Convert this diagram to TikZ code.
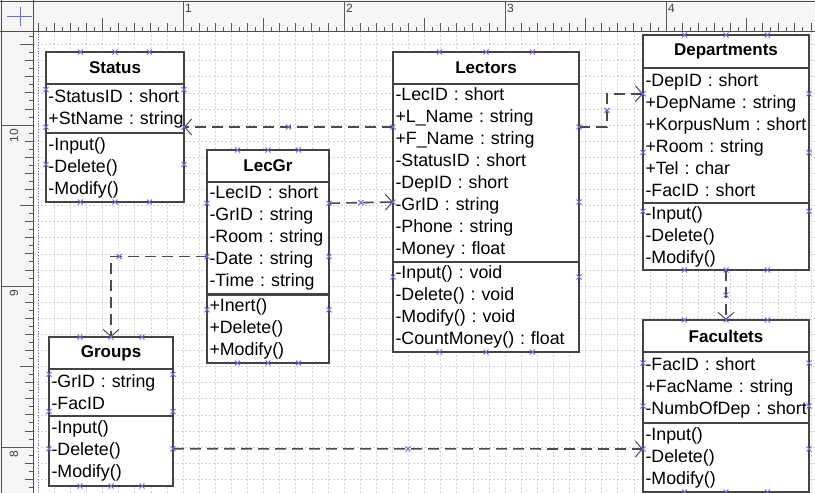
\documentclass[tikz,border=0pt]{standalone}
\usepackage{fontspec}
\setmainfont{Liberation Sans}
\usepackage{xcolor}
\usetikzlibrary{arrows.meta,positioning,calc,fit}

\definecolor{boxline}{RGB}{68,68,68}
\definecolor{conline}{RGB}{75,75,75}
\definecolor{cptblue}{RGB}{105,105,245}
\definecolor{gridgray}{RGB}{212,212,212}
\definecolor{rulerbg}{RGB}{246,246,246}

% blue connection point
\newcommand{\cpt}[1]{\draw[cpx] (#1) +(-2.5,-2.5) -- +(2.5,2.5) +(-2.5,2.5) -- +(2.5,-2.5);}

\begin{document}
\begin{tikzpicture}[
  x=1pt, y=-1pt,
  font=\fontsize{17.8}{22}\selectfont\frenchspacing,
  classname/.style={rectangle, draw=boxline, line width=1.5pt, fill=white,
                    font=\fontsize{17}{22}\selectfont\bfseries,
                    inner sep=0pt, outer sep=0pt},
  section/.style={rectangle, draw=boxline, line width=1.5pt, fill=white,
                  align=left, inner xsep=2.5pt, inner ysep=0pt, outer sep=0pt},
  hull/.style={inner sep=0pt, outer sep=0pt},
  dep/.style={draw=conline, line width=1.6pt, dash pattern=on 11pt off 6pt,
              -{Straight Barb[length=7pt, width=16pt, line width=1pt]}},
  cpx/.style={draw=cptblue, line width=1pt},
  gridln/.style={draw=gridgray, line width=0.6pt, dash pattern=on 1.5pt off 2.5pt},
  tick/.style={draw=black!65, line width=0.8pt},
  rulernum/.style={font=\fontsize{12}{12}\selectfont, text=black!75, inner sep=1pt},
]
\useasboundingbox (0,0) rectangle (815,493);

% grid
\foreach \i in {1,...,49}
  \draw[gridln] (22+16.1*\i,31) -- (22+16.1*\i,493);
\foreach \j in {-5,...,23}
  \draw[gridln] (33,125+16.1*\j) -- (815,125+16.1*\j);
\draw[cptblue, line width=0.8pt, dotted] (38,31) -- (38,493);

% Status
\node[classname, minimum width=138pt, minimum height=32pt, anchor=north west]
  (statusT) at (46,52) {Status};
\node[section, text width=133pt, minimum height=49pt, below=0pt of statusT]
  (statusA) {-StatusID : short\\\mbox{+StName : string}};
\node[section, text width=133pt, minimum height=69pt, below=0pt of statusA]
  (statusM) {-Input()\\-Delete()\\-Modify()};
\node[hull, fit=(statusT)(statusM)] (status) {};

% LecGr
\node[classname, minimum width=122pt, minimum height=32pt, anchor=north west]
  (lecgrT) at (207,150) {LecGr};
\node[section, text width=117pt, minimum height=112pt, below=0pt of lecgrT]
  (lecgrA) {-LecID : short\\-GrID : string\\\mbox{-Room : string}\\-Date : string\\-Time : string};
\node[section, text width=117pt, minimum height=69pt, below=0pt of lecgrA]
  (lecgrM) {+Inert()\\+Delete()\\+Modify()};
\draw[boxline, line width=3pt] (lecgrM.north west) -- (lecgrM.north east);
\node[hull, fit=(lecgrT)(lecgrM)] (lecgr) {};

% Lectors
\node[classname, minimum width=186pt, minimum height=32pt, anchor=north west]
  (lectorsT) at (393,52) {Lectors};
\node[section, text width=181pt, minimum height=178pt, below=0pt of lectorsT]
  (lectorsA) {-LecID : short\\+L\_Name : string\\+F\_Name : string\\-StatusID : short\\
              -DepID : short\\-GrID : string\\-Phone : string\\-Money : float};
\node[section, text width=181pt, minimum height=90pt, below=0pt of lectorsA]
  (lectorsM) {-Input() : void\\-Delete() : void\\-Modify() : void\\\mbox{-CountMoney() : float}};
\node[hull, fit=(lectorsT)(lectorsM)] (lectors) {};

% Departments
\node[classname, minimum width=166pt, minimum height=33pt, anchor=north west]
  (deptsT) at (643,35) {Departments};
\node[section, text width=161pt, minimum height=135pt, below=0pt of deptsT]
  (deptsA) {-DepID : short\\+DepName : string\\\mbox{+KorpusNum : short}\\+Room : string\\
            +Tel : char\\-FacID : short};
\node[section, text width=161pt, minimum height=67pt, below=0pt of deptsA]
  (deptsM) {-Input()\\-Delete()\\-Modify()};
\node[hull, fit=(deptsT)(deptsM)] (depts) {};

% Facultets
\node[classname, minimum width=166pt, minimum height=32pt, anchor=north west]
  (facsT) at (643,320) {Facultets};
\node[section, text width=161pt, minimum height=71pt, below=0pt of facsT]
  (facsA) {-FacID : short\\+FacName : string\\\mbox{-NumbOfDep : short}};
\node[section, text width=161pt, minimum height=69pt, below=0pt of facsA]
  (facsM) {-Input()\\-Delete()\\-Modify()};
\node[hull, fit=(facsT)(facsM)] (facs) {};

% Groups
\node[classname, minimum width=124pt, minimum height=32pt, anchor=north west]
  (groupsT) at (49,337) {Groups};
\node[section, text width=119pt, minimum height=47pt, below=0pt of groupsT]
  (groupsA) {-GrID : string\\-FacID};
\node[section, text width=119pt, minimum height=70pt, below=0pt of groupsA]
  (groupsM) {-Input()\\-Delete()\\-Modify()};
\node[hull, fit=(groupsT)(groupsM)] (groups) {};

% dependencies
\draw[dep] ($(lectors.north west)!.25!(lectors.south west)$) -- coordinate (m1) (status.east);
\draw[dep] ($(lecgr.north east)!.25!(lecgr.south east)$) -- coordinate (m2) (lectors.west);
\draw[dep] ($(lectors.north east)!.25!(lectors.south east)$) -- ++(28,0)
  |- coordinate[pos=.25] (m3) ($(depts.north west)!.25!(depts.south west)$);
\draw[dep] (depts.south) -- coordinate (m4) (facs.north);
\draw[dep] (lecgr.west) -| coordinate[pos=.458] (m5) (groups.north);
\draw[dep] ($(groups.north east)!.75!(groups.south east)$) -- coordinate (m6)
  ($(facs.north west)!.75!(facs.south west)$);

% connection points
\foreach \c in {status,lecgr,lectors,depts,facs,groups}{
  \foreach \f in {.25,.5,.75}{
    \cpt{$(\c.north west)!\f!(\c.north east)$}
    \cpt{$(\c.south west)!\f!(\c.south east)$}
    \cpt{$(\c.north west)!\f!(\c.south west)$}
    \cpt{$(\c.north east)!\f!(\c.south east)$}
  }
}
\foreach \m in {m1,m2,m3,m4,m5,m6}{\cpt{\m}}

% rulers
\fill[rulerbg] (0,0) rectangle (815,31);
\fill[rulerbg] (0,0) rectangle (33,493);
\foreach \k in {2,...,98}{
  \pgfmathsetmacro{\tl}{mod(\k,20)==0 ? 29 : (mod(\k,10)==0 ? 13 : (mod(\k,2)==0 ? 8 : 4))}
  \draw[tick] (22+8.05*\k,31) -- ++(0,-\tl);
}
\foreach \k in {-11,...,45}{
  \pgfmathsetmacro{\tl}{mod(\k,20)==0 ? 31 : (mod(\k,10)==0 ? 13 : (mod(\k,2)==0 ? 8 : 4))}
  \draw[tick] (33,125+8.05*\k) -- ++(-\tl,0);
}
\foreach \n in {1,...,4}
  \node[rulernum, anchor=north west] (top\n) at (23+161*\n,3) {\n};
\foreach \n/\v in {0/10,1/9,2/8}
  \node[rulernum, rotate=90, anchor=east] (left\v) at (14,128+161*\n) {\v};
\fill[rulerbg] (0,0) rectangle (33,31);
\draw[cptblue, line width=1pt] (20,7) -- (20,26) (7,16) -- (32,16);
\draw[black!70, line width=1pt] (0,1) -- (815,1) (0,31) -- (815,31)
  (1,0) -- (1,493) (33,0) -- (33,493);
\end{tikzpicture}
\end{document}
